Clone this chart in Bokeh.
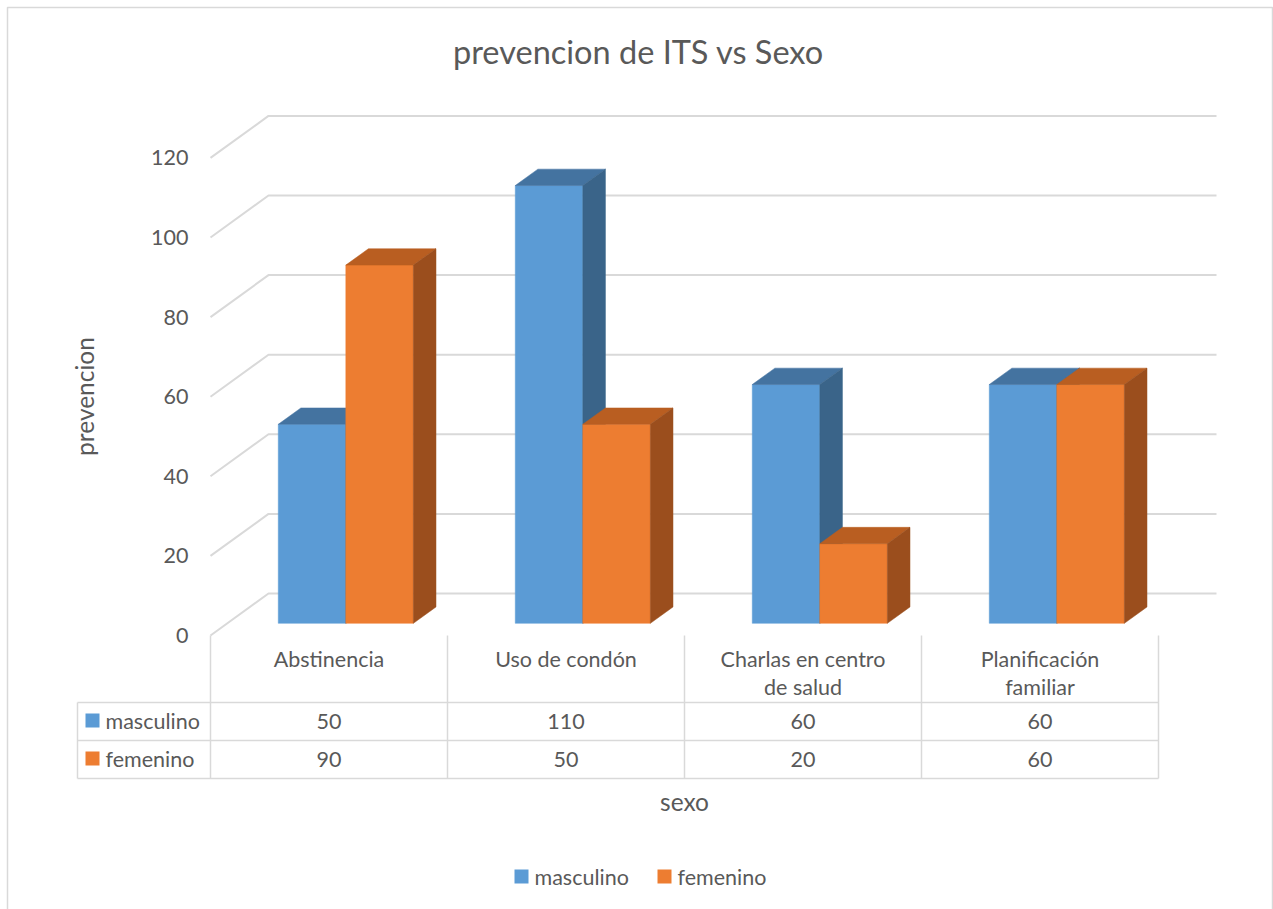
import textwrap

from bokeh.core.properties import value
from bokeh.embed import file_html
from bokeh.models import Range1d
from bokeh.plotting import figure
from bokeh.resources import INLINE

# ---- data -------------------------------------------------------------
categories = ["Abstinencia", "Uso de condón", "Charlas en centro de salud",
              "Planificación familiar"]
series_names = ["masculino", "femenino"]
masculino = [50, 110, 60, 60]
femenino = [90, 50, 20, 60]
value_ticks = [0, 20, 40, 60, 80, 100, 120]

title = "prevencion de ITS vs Sexo"
x_title = "sexo"
y_title = "prevencion"

# ---- styling ----------------------------------------------------------
FONT = "Lato"
TEXT = "#595959"
GRID = "#D9D9D9"
BODY = "21.5px"
AXIS_TITLE = "24.5px"
faces = {
    "masculino": ("#5B9BD5", "#4473A0", "#3A6489"),   # front, top, side
    "femenino": ("#ED7D31", "#B95E21", "#9B4E1D"),
}

W, H = 1273, 909
# layout of the category/value system on the canvas (pixels)
X0_PX, CAT_PX = 210.0, 237.0      # left edge of first category, category width
Y0_PX, VAL_PX = 635.0, 3.98       # value 0 on the front plane, pixels per unit

# oblique depth of the box: full depth shifts this much (data units)
DEPTH_DX = 58.0 / CAT_PX
DEPTH_DY = 42.0 / VAL_PX
BAR_D1, BAR_D2 = 0.29, 0.68       # bar front / back planes (fraction of depth)
BAR_GAP, BAR_W = 0.215, 0.285     # per category, in category units


def cx(px):
    return (px - X0_PX) / CAT_PX


def cy(py):
    return (Y0_PX - py) / VAL_PX


p = figure(width=W, height=H, output_backend="svg", toolbar_location=None,
           x_range=Range1d(cx(0), cx(W)), y_range=Range1d(cy(H), cy(0)),
           min_border=0)
p.xaxis.visible = False
p.yaxis.visible = False
p.xgrid.visible = False
p.ygrid.visible = False
p.outline_line_color = None
p.background_fill_color = "white"
p.border_fill_color = "white"

# chart border
p.quad(left=cx(7), right=cx(1272), top=cy(7), bottom=cy(930),
       fill_color=None, line_color=GRID, line_width=1.5)

# ---- gridlines: front edge -> back wall ------------------------------
n_cat = len(categories)
gx, gy = [], []
for v in value_ticks:
    gx.append([0, DEPTH_DX, n_cat + DEPTH_DX])
    gy.append([v, v + DEPTH_DY, v + DEPTH_DY])
p.multi_line(gx, gy, line_color=GRID, line_width=2)

# value tick labels
p.text(x=[cx(188)] * len(value_ticks), y=value_ticks,
       text=[str(v) for v in value_ticks], text_align="right",
       text_baseline="middle", text_font=value(FONT), text_font_size=BODY,
       text_color=TEXT)

# ---- 3D columns -------------------------------------------------------
fx, fy, fc = [], [], []
for i in range(n_cat):
    for s, name in enumerate(series_names):
        v = (masculino if name == "masculino" else femenino)[i]
        front, top, side = faces[name]
        xl = i + BAR_GAP + s * BAR_W
        xr = xl + BAR_W
        a1x, a1y = BAR_D1 * DEPTH_DX, BAR_D1 * DEPTH_DY
        a2x, a2y = BAR_D2 * DEPTH_DX, BAR_D2 * DEPTH_DY
        # front
        fx.append([xl + a1x, xr + a1x, xr + a1x, xl + a1x])
        fy.append([a1y, a1y, v + a1y, v + a1y])
        fc.append(front)
        # top
        fx.append([xl + a1x, xr + a1x, xr + a2x, xl + a2x])
        fy.append([v + a1y, v + a1y, v + a2y, v + a2y])
        fc.append(top)
        # right side
        fx.append([xr + a1x, xr + a2x, xr + a2x, xr + a1x])
        fy.append([a1y, a2y, v + a2y, v + a1y])
        fc.append(side)
p.patches(fx, fy, fill_color=fc, line_color=fc, line_width=0.5)

# ---- data table under the plot ---------------------------------------
row_top, row1, row2, row_bot = 635, 702, 740, 778
tx, ty = [], []
for i in range(n_cat + 1):
    tx.append([i, i])
    ty.append([cy(row_top), cy(row_bot)])
tx.append([cx(77), cx(77)])
ty.append([cy(row1), cy(row_bot)])
for r in (row1, row2, row_bot):
    tx.append([cx(77), n_cat])
    ty.append([cy(r), cy(r)])
p.multi_line(tx, ty, line_color=GRID, line_width=1.5)

# category labels (wrapped to the column width)
lx, ly, lt = [], [], []
for i, c in enumerate(categories):
    for k, line in enumerate(textwrap.wrap(c, 18)):
        lx.append(i + 0.5)
        ly.append(cy(658 + k * 28.7))
        lt.append(line)
p.text(x=lx, y=ly, text=lt, text_align="center", text_baseline="middle",
       text_font=value(FONT), text_font_size=BODY, text_color=TEXT)

# value rows
for r_y, vals in ((721, masculino), (759, femenino)):
    p.text(x=[i + 0.5 for i in range(n_cat)], y=[cy(r_y)] * n_cat,
           text=[str(v) for v in vals], text_align="center",
           text_baseline="middle", text_font=value(FONT),
           text_font_size=BODY, text_color=TEXT)

# series keys in the table
p.scatter(x=[cx(92)] * 2, y=[cy(720), cy(758)], marker="square", size=14,
          fill_color=[faces[n][0] for n in series_names], line_color=None)
p.text(x=[cx(105)] * 2, y=[cy(720), cy(758)], text=series_names,
       text_align="left", text_baseline="middle", text_font=value(FONT),
       text_font_size=BODY, text_color=TEXT)

# ---- titles -----------------------------------------------------------
p.text(x=[cx(638)], y=[cy(51)], text=[title], text_align="center",
       text_baseline="middle", text_font=value(FONT), text_font_size="32.5px",
       text_color=TEXT)
p.text(x=[cx(684)], y=[cy(801)], text=[x_title], text_align="center",
       text_baseline="middle", text_font=value(FONT),
       text_font_size=AXIS_TITLE, text_color=TEXT)
p.text(x=[cx(84)], y=[cy(396)], text=[y_title], angle=1.5708,
       text_align="center", text_baseline="middle", text_font=value(FONT),
       text_font_size=AXIS_TITLE, text_color=TEXT)

# ---- legend -----------------------------------------------------------
p.scatter(x=[cx(521), cx(664)], y=[cy(876)] * 2, marker="square", size=14,
          fill_color=[faces[n][0] for n in series_names], line_color=None)
p.text(x=[cx(534), cx(677)], y=[cy(876)] * 2, text=series_names,
       text_align="left", text_baseline="middle", text_font=value(FONT),
       text_font_size=BODY, text_color=TEXT)

open("out.html", "w").write(file_html(p, INLINE))
